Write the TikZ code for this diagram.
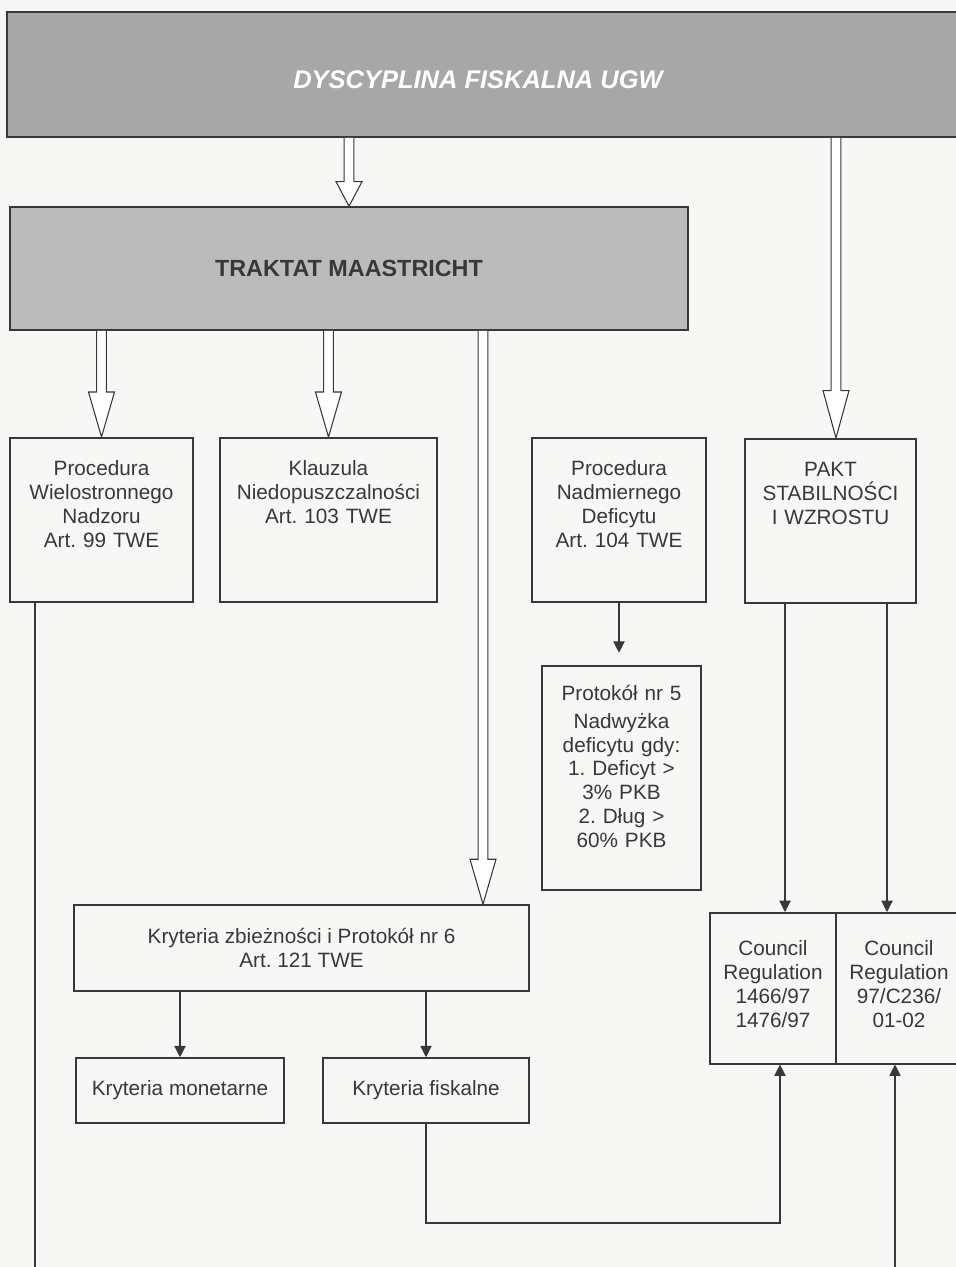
\documentclass[tikz,border=0pt]{standalone}
\usepackage{fontspec}
\setmainfont{Liberation Sans}
\usetikzlibrary{arrows.meta,calc,positioning}
\frenchspacing

\definecolor{inkgray}{HTML}{383838}
\definecolor{bannergray}{HTML}{A7A7A7}
\definecolor{treatygray}{HTML}{BBBBBB}
\definecolor{papergray}{HTML}{F7F7F5}

\tikzset{
  box/.style={draw=inkgray, line width=0.9pt, align=center, inner sep=0pt, text=inkgray,
    font=\fontsize{11.8}{13.6}\selectfont},
  topbox/.style={box, anchor=north, text height=0.76cm},
  link/.style={draw=inkgray, line width=0.6pt, -{Triangle[width=6.5pt,length=6.5pt]}},
  bigarrow/.style={draw=inkgray, line width=0.6pt, fill=white},
}

% hollow arrow: from, to, head length
\newcommand\bigarrow[3]{%
  \draw[bigarrow] let \p1=(#1), \p2=(#2) in
    (\x1-2.8pt,\y1) -- (\x1-2.8pt,\y2+#3) -- (\x1-7.4pt,\y2+#3) -- (\x1,\y2)
    -- (\x1+7.4pt,\y2+#3) -- (\x1+2.8pt,\y2+#3) -- (\x1+2.8pt,\y1);}

\begin{document}
\begin{tikzpicture}[x=0.02cm,y=-0.02cm]
  \useasboundingbox (0,0) rectangle (956,1267);
  \clip (0,0) rectangle (956,1267);
  \fill[papergray] (0,0) rectangle (956,1267);

  \node[box, fill=bannergray, minimum width=19.16cm, minimum height=2.5cm] (banner) at (486,74.5) {};
  \node[text=white, font=\fontsize{14.5}{17}\selectfont\bfseries\itshape] (bannertxt) at (478,80) {DYSCYPLINA FISKALNA UGW};

  \node[box, fill=treatygray, minimum width=13.56cm, minimum height=2.46cm,
    font=\fontsize{13.3}{16}\selectfont\bfseries] (traktat) at (349,268.5) {TRAKTAT MAASTRICHT};

  \node[topbox, text width=3.66cm, text depth=2.52cm] (proc) at (101.5,437)
    {Procedura\\Wielostronnego\\Nadzoru\\Art. 99 TWE};
  \node[topbox, text width=4.34cm, text depth=2.52cm] (klauz) at (328.5,437)
    {Klauzula\\Niedopuszczalności\\Art. 103 TWE};
  \node[topbox, text width=3.48cm, text depth=2.52cm] (nadm) at (619,437)
    {Procedura\\Nadmiernego\\Deficytu\\Art. 104 TWE};
  \node[topbox, text width=3.42cm, text depth=2.52cm] (pakt) at (830.5,438)
    {PAKT\\STABILNOŚCI\\I WZROSTU};

  \node[topbox, text width=3.18cm, text height=0.7cm, text depth=3.78cm] (prot) at (621.5,665)
    {Protokół nr 5\\[2pt]Nadwyżka\\deficytu gdy:\\1. Deficyt >\\3\% PKB\\2. Dług >\\60\% PKB};

  \node[box, minimum width=9.1cm, minimum height=1.72cm] (kryt) at (301.5,948)
    {Kryteria zbieżności i Protokół nr 6\\Art. 121 TWE};
  \node[box, minimum width=4.16cm, minimum height=1.3cm] (mon) at (180,1090.5) {Kryteria monetarne};
  \node[box, minimum width=4.12cm, minimum height=1.3cm] (fisk) at (426,1090.5) {Kryteria fiskalne};

  \node[topbox, text width=2.52cm, text height=0.86cm, text depth=2.16cm] (coun1) at (773,912)
    {Council\\Regulation\\1466/97\\1476/97};
  \node[topbox, text width=2.52cm, text height=0.86cm, text depth=2.16cm] (coun2) at (899,912)
    {Council\\Regulation\\97/C236/\\01-02};

  \coordinate (xlong) at (483,0);
  \coordinate (xpakt) at (836,0);
  \coordinate (xa) at (785,0);
  \coordinate (xb) at (887,0);
  \coordinate (ret) at (780,1223);
  \coordinate (procend) at (35,1280);
  \coordinate (regin) at (895,1280);

  \bigarrow{banner.south -| traktat.north}{traktat.north}{14pt}
  \bigarrow{banner.south -| xpakt}{pakt.north -| xpakt}{27pt}
  \bigarrow{traktat.south -| proc.north}{proc.north}{25.6pt}
  \bigarrow{traktat.south -| klauz.north}{klauz.north}{25.6pt}
  \bigarrow{traktat.south -| xlong}{kryt.north -| xlong}{25.6pt}

  \draw[link, shorten >=7pt] (nadm.south) -- (nadm.south |- prot.north);
  \draw[link] (pakt.south -| xa) -- (coun1.north -| xa);
  \draw[link] (pakt.south -| xb) -- (coun2.north -| xb);
  \draw[link] (kryt.south -| mon.north) -- (mon.north);
  \draw[link] (kryt.south -| fisk.north) -- (fisk.north);
  \draw[link] (fisk.south) |- (ret) -- (ret |- coun1.south);
  \draw[link] (regin) -- (coun2.south -| regin);
  \draw[draw=inkgray, line width=0.6pt] (proc.south -| procend) -- (procend);
\end{tikzpicture}
\end{document}
